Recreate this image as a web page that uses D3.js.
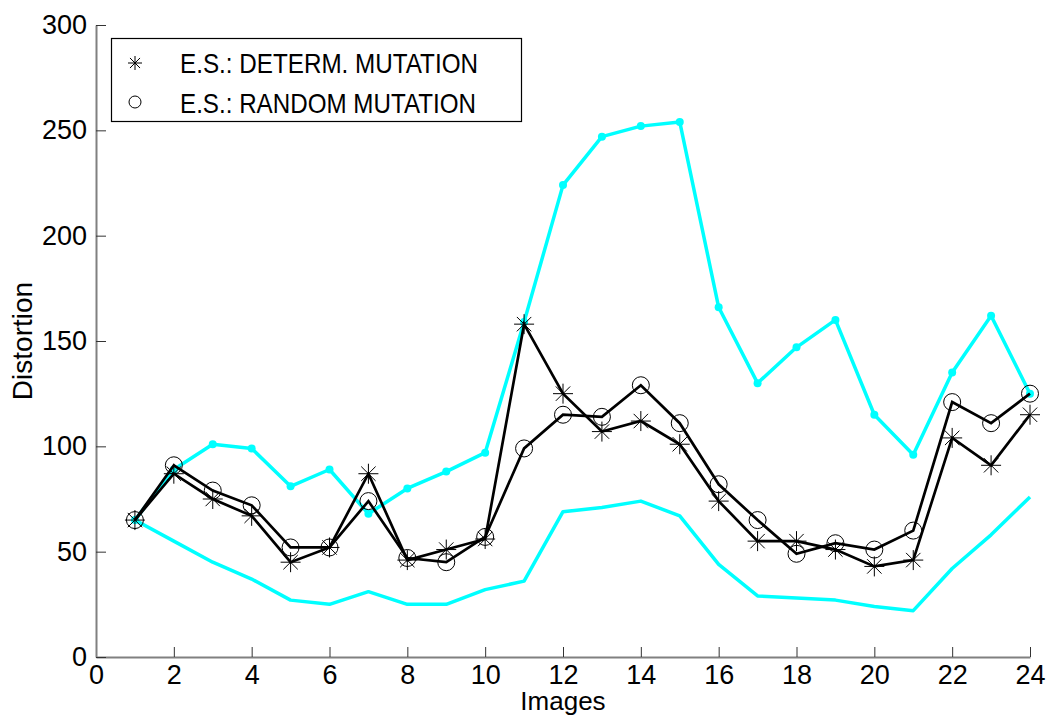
<!DOCTYPE html>
<html>
<head>
<meta charset="utf-8">
<script src="https://cdn.jsdelivr.net/npm/d3@7"></script>
<style>
    body { margin: 0; background: #fff; }
    svg { display: block; font-family: "Liberation Sans", Arial, sans-serif; }
</style>
</head>
<body>
<div id="grafico"></div>
<script>
var images = d3.range(1, 25);
var upperBound = [65, 89, 101, 99, 81, 89, 68, 80, 88, 97, 159, 224, 247, 252, 254, 166, 130, 147, 160, 115, 96, 135, 162, 125];
var lowerBound = [65, 55, 45, 37, 27, 25, 31, 25, 25, 32, 36, 69, 71, 74, 67, 44, 29, 28, 27, 24, 22, 42, 58, 76];
var determ = [65, 87, 75, 67, 45, 52, 87, 46, 51, 56, 158, 125, 107, 112, 101, 74, 55, 55, 51, 43, 46, 104, 91, 115];
var random = [65, 91, 79, 72, 52, 52, 74, 47, 45, 57, 99, 115, 114, 129, 111, 82, 65, 49, 54, 51, 60, 121, 111, 125];
var xTicks = d3.range(0, 25, 2);
var yTicks = d3.range(0, 301, 50);
var legendLabels = ["E.S.: DETERM. MUTATION", "E.S.: RANDOM MUTATION"];

function pares(valores) {
    return valores.map(function (v, i) {
        return {clave: images[i], valor: v};
    });
}

function estrella(sel, s) {
    // asterisco de 8 brazos, como el marcador '*'
    [[-s, 0, s, 0], [0, -s, 0, s], [-s * 0.72, -s * 0.72, s * 0.72, s * 0.72], [-s * 0.72, s * 0.72, s * 0.72, -s * 0.72]].forEach(function (l) {
        sel.append("line")
                .attr("x1", l[0]).attr("y1", l[1])
                .attr("x2", l[2]).attr("y2", l[3])
                .attr("stroke", "#000")
                .attr("stroke-width", 1);
    });
}

function grafico(id) {
    var svg = d3.select("#" + id).append("svg")
            .attr("width", 1050)
            .attr("height", 715);

    var x = d3.scaleLinear().domain([0, 24]).range([96, 1030]);
    var y = d3.scaleLinear().domain([0, 300]).range([657, 25]);

    var line = d3.line()
            .x(function (d) {
                return x(d.clave);
            })
            .y(function (d) {
                return y(d.valor);
            });

    // ejes
    var ax = svg.append("g")
            .attr("transform", "translate(0," + y(0) + ")")
            .call(d3.axisBottom(x).tickValues(xTicks).tickSizeInner(-10).tickSizeOuter(0).tickPadding(8));
    var ay = svg.append("g")
            .attr("transform", "translate(" + x(0) + ",0)")
            .call(d3.axisLeft(y).tickValues(yTicks).tickSizeInner(-10).tickSizeOuter(0).tickPadding(9));

    [ax, ay].forEach(function (a) {
        a.select(".domain").attr("stroke", "#808080").attr("stroke-width", 2);
        a.selectAll(".tick line").attr("stroke", "#333").attr("stroke-width", 1);
        a.selectAll(".tick text")
                .attr("fill", "#000")
                .style("font-size", "27px")
                .style("font-family", "'Liberation Sans', Arial, sans-serif");
    });

    svg.append("text")
            .attr("x", (x(0) + x(24)) / 2)
            .attr("y", 710)
            .attr("text-anchor", "middle")
            .style("font-size", "26px")
            .text("Images");

    svg.append("text")
            .attr("transform", "translate(32," + y(150) + ") rotate(-90)")
            .attr("text-anchor", "middle")
            .style("font-size", "28px")
            .text("Distortion");

    // limites en cian
    [upperBound, lowerBound].forEach(function (serie) {
        svg.append("path")
                .datum(pares(serie))
                .attr("fill", "none")
                .attr("stroke", "#00ffff")
                .attr("stroke-width", 3.5)
                .attr("stroke-linejoin", "round")
                .attr("d", line);
    });

    svg.append("g")
            .selectAll("circle")
            .data(pares(upperBound))
            .enter()
            .append("circle")
            .attr("r", 4)
            .attr("fill", "#00ffff")
            .attr("cx", function (d) {
                return x(d.clave);
            })
            .attr("cy", function (d) {
                return y(d.valor);
            });

    // series negras
    [determ, random].forEach(function (serie) {
        svg.append("path")
                .datum(pares(serie))
                .attr("fill", "none")
                .attr("stroke", "#000")
                .attr("stroke-width", 2.7)
                .attr("stroke-linejoin", "miter")
                .attr("d", line);
    });

    svg.append("g")
            .selectAll("g")
            .data(pares(determ))
            .enter()
            .append("g")
            .attr("transform", function (d) {
                return "translate(" + x(d.clave) + "," + y(d.valor) + ")";
            })
            .each(function () {
                estrella(d3.select(this), 10);
            });

    svg.append("g")
            .selectAll("circle")
            .data(pares(random))
            .enter()
            .append("circle")
            .attr("r", 8.5)
            .attr("fill", "none")
            .attr("stroke", "#000")
            .attr("stroke-width", 1)
            .attr("cx", function (d) {
                return x(d.clave);
            })
            .attr("cy", function (d) {
                return y(d.valor);
            });

    // leyenda
    var leyenda = svg.append("g");
    leyenda.append("rect")
            .attr("x", 111.5)
            .attr("y", 38.5)
            .attr("width", 410)
            .attr("height", 83)
            .attr("fill", "#fff")
            .attr("stroke", "#000")
            .attr("stroke-width", 1.2);

    estrella(leyenda.append("g").attr("transform", "translate(135,63)"), 7);
    leyenda.append("circle")
            .attr("cx", 135)
            .attr("cy", 102)
            .attr("r", 6)
            .attr("fill", "none")
            .attr("stroke", "#000")
            .attr("stroke-width", 1);

    leyenda.selectAll("text.item")
            .data(legendLabels)
            .enter()
            .append("text")
            .attr("class", "item")
            .attr("x", 180)
            .attr("y", function (d, i) {
                return 73 + i * 40;
            })
            .attr("textLength", function (d, i) {
                return i === 0 ? 298 : 296;
            })
            .attr("lengthAdjust", "spacingAndGlyphs")
            .style("font-size", "28px")
            .text(function (d) {
                return d;
            });
}

grafico("grafico");
</script>
</body>
</html>
